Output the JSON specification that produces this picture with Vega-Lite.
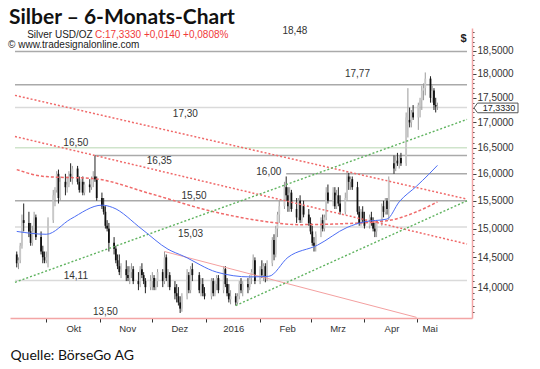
{
"$schema":"https://vega.github.io/schema/vega-lite/v6.json",
"width":462,"height":290,
"autosize":{"type":"none"},
"padding":{"left":10,"top":28,"right":68,"bottom":51},
"background":"white",
"config":{"view":{"stroke":null}},
"title":{"text":"Silber – 6-Monats-Chart","anchor":"start","frame":"group","font":"Lato","fontSize":21,"fontWeight":"bold","color":"#111","offset":0,"dx":-1,"dy":2},
"datasets":{
"levels":[
{"price":18.48,"date":"2015-09-13","end":"2016-05-30"},
{"price":17.77,"date":"2015-09-13","end":"2016-05-30"},
{"price":17.3,"date":"2015-09-13","end":"2016-05-30"},
{"price":16.5,"date":"2015-09-13","end":"2016-05-30"},
{"price":16.35,"date":"2015-10-29","end":"2016-05-30"},
{"price":16.0,"date":"2016-02-16","end":"2016-05-30"},
{"price":15.5,"date":"2015-09-13","end":"2016-05-30"},
{"price":15.03,"date":"2015-09-13","end":"2016-05-30"},
{"price":14.11,"date":"2015-09-13","end":"2016-05-30"}
],
"labels":[
{"label":"18,48","date":"2016-02-21","price":18.94},
{"label":"17,77","date":"2016-03-28","price":17.99},
{"label":"17,30","date":"2015-12-20","price":17.16},
{"label":"16,50","date":"2015-10-18","price":16.6},
{"label":"16,35","date":"2015-12-05","price":16.24},
{"label":"16,00","date":"2016-02-06","price":16.03},
{"label":"15,50","date":"2015-12-25","price":15.58},
{"label":"15,03","date":"2015-12-23","price":14.9},
{"label":"14,11","date":"2015-10-18","price":14.18},
{"label":"13,50","date":"2015-11-04","price":13.59}
],
"notes":[
{"label":"Silver USD/OZ","date":"2015-09-20","price":18.85},
{"label":"C:17,3330 +0,0140 +0,0808%","date":"2015-10-29","price":18.85},
{"label":"© www.tradesignalonline.com","date":"2015-09-09","price":18.63}
],
"lines":[
{"series":"ch1","date":"2015-09-13","price":17.55},{"series":"ch1","date":"2016-05-30","price":15.53},
{"series":"ch2","date":"2015-09-13","price":16.72},{"series":"ch2","date":"2016-05-30","price":14.73},
{"series":"tl","date":"2015-12-08","price":14.6},{"series":"tl","date":"2016-05-01","price":13.51},
{"series":"g1","date":"2015-09-13","price":14.08},{"series":"g1","date":"2016-05-30","price":17.06},
{"series":"g2","date":"2016-01-18","price":13.7},{"series":"g2","date":"2016-05-30","price":15.5},
{"series":"ma200","date":"2015-09-14","price":16.08},{"series":"ma200","date":"2015-09-30","price":15.95},{"series":"ma200","date":"2015-10-28","price":15.91},{"series":"ma200","date":"2015-12-01","price":15.62},{"series":"ma200","date":"2016-01-04","price":15.31},{"series":"ma200","date":"2016-02-01","price":15.14},{"series":"ma200","date":"2016-02-23","price":15.07},{"series":"ma200","date":"2016-03-22","price":15.09},{"series":"ma200","date":"2016-04-14","price":15.14},{"series":"ma200","date":"2016-05-01","price":15.3},{"series":"ma200","date":"2016-05-13","price":15.48},
{"series":"ma50","date":"2015-09-14","price":14.95},{"series":"ma50","date":"2015-10-01","price":14.9},{"series":"ma50","date":"2015-10-15","price":15.17},{"series":"ma50","date":"2015-11-02","price":15.42},{"series":"ma50","date":"2015-11-08","price":15.38},{"series":"ma50","date":"2015-11-25","price":14.99},{"series":"ma50","date":"2015-12-10","price":14.64},{"series":"ma50","date":"2015-12-19","price":14.52},{"series":"ma50","date":"2016-01-07","price":14.25},{"series":"ma50","date":"2016-01-26","price":14.17},{"series":"ma50","date":"2016-02-06","price":14.18},{"series":"ma50","date":"2016-02-17","price":14.5},{"series":"ma50","date":"2016-03-05","price":14.71},{"series":"ma50","date":"2016-03-22","price":15.02},{"series":"ma50","date":"2016-04-01","price":15.12},{"series":"ma50","date":"2016-04-14","price":15.17},{"series":"ma50","date":"2016-04-21","price":15.48},{"series":"ma50","date":"2016-05-01","price":15.77},{"series":"ma50","date":"2016-05-08","price":15.99},{"series":"ma50","date":"2016-05-13","price":16.16}
],
"bars":[
{"date":"2015-09-14","open":14.55,"high":14.6,"low":14.33,"close":14.4},
{"date":"2015-09-15","open":14.4,"high":14.5,"low":14.3,"close":14.45},
{"date":"2015-09-16","open":14.45,"high":14.75,"low":14.4,"close":14.7},
{"date":"2015-09-17","open":14.7,"high":15.25,"low":14.65,"close":15.15},
{"date":"2015-09-18","open":15.15,"high":15.45,"low":14.95,"close":15.1},
{"date":"2015-09-21","open":15.1,"high":15.3,"low":14.85,"close":14.95},
{"date":"2015-09-22","open":14.95,"high":15.1,"low":14.7,"close":14.75},
{"date":"2015-09-23","open":14.75,"high":15.05,"low":14.7,"close":14.95},
{"date":"2015-09-24","open":14.95,"high":15.3,"low":14.9,"close":15.2},
{"date":"2015-09-25","open":15.2,"high":15.25,"low":14.8,"close":14.85},
{"date":"2015-09-28","open":14.85,"high":14.95,"low":14.55,"close":14.6},
{"date":"2015-09-29","open":14.6,"high":14.7,"low":14.4,"close":14.5},
{"date":"2015-09-30","open":14.5,"high":14.6,"low":14.4,"close":14.45},
{"date":"2015-10-01","open":14.45,"high":14.6,"low":14.4,"close":14.5},
{"date":"2015-10-02","open":14.5,"high":15.2,"low":14.33,"close":15.15},
{"date":"2015-10-05","open":15.15,"high":15.7,"low":15.1,"close":15.6},
{"date":"2015-10-06","open":15.6,"high":15.75,"low":15.4,"close":15.7},
{"date":"2015-10-07","open":15.7,"high":16.05,"low":15.65,"close":16.0},
{"date":"2015-10-08","open":16.0,"high":16.08,"low":15.45,"close":15.55},
{"date":"2015-10-09","open":15.55,"high":15.95,"low":15.5,"close":15.85},
{"date":"2015-10-12","open":15.85,"high":16.0,"low":15.6,"close":15.75},
{"date":"2015-10-13","open":15.75,"high":15.95,"low":15.65,"close":15.8},
{"date":"2015-10-14","open":15.8,"high":16.05,"low":15.75,"close":16.0},
{"date":"2015-10-15","open":16.0,"high":16.2,"low":15.85,"close":15.95},
{"date":"2015-10-16","open":15.95,"high":16.15,"low":15.8,"close":16.1},
{"date":"2015-10-19","open":16.1,"high":16.15,"low":15.8,"close":15.85},
{"date":"2015-10-20","open":15.85,"high":15.95,"low":15.65,"close":15.7},
{"date":"2015-10-21","open":15.7,"high":15.9,"low":15.65,"close":15.85},
{"date":"2015-10-22","open":15.85,"high":15.95,"low":15.6,"close":15.65},
{"date":"2015-10-23","open":15.65,"high":15.85,"low":15.6,"close":15.8},
{"date":"2015-10-26","open":15.8,"high":15.9,"low":15.65,"close":15.75},
{"date":"2015-10-27","open":15.75,"high":15.95,"low":15.7,"close":15.9},
{"date":"2015-10-28","open":15.9,"high":16.05,"low":15.75,"close":15.95},
{"date":"2015-10-29","open":15.95,"high":16.35,"low":15.85,"close":15.9},
{"date":"2015-10-30","open":15.9,"high":15.95,"low":15.5,"close":15.55},
{"date":"2015-11-02","open":15.55,"high":15.65,"low":15.35,"close":15.4},
{"date":"2015-11-03","open":15.4,"high":15.55,"low":15.25,"close":15.3},
{"date":"2015-11-04","open":15.3,"high":15.4,"low":15.0,"close":15.05},
{"date":"2015-11-05","open":15.05,"high":15.15,"low":14.95,"close":15.0},
{"date":"2015-11-06","open":15.0,"high":15.1,"low":14.6,"close":14.75},
{"date":"2015-11-09","open":14.75,"high":14.85,"low":14.55,"close":14.65},
{"date":"2015-11-10","open":14.65,"high":14.7,"low":14.4,"close":14.45},
{"date":"2015-11-11","open":14.45,"high":14.55,"low":14.3,"close":14.35},
{"date":"2015-11-12","open":14.35,"high":14.55,"low":14.2,"close":14.25},
{"date":"2015-11-13","open":14.25,"high":14.4,"low":14.15,"close":14.3},
{"date":"2015-11-16","open":14.3,"high":14.45,"low":14.1,"close":14.2},
{"date":"2015-11-17","open":14.2,"high":14.35,"low":14.1,"close":14.15},
{"date":"2015-11-18","open":14.15,"high":14.35,"low":14.05,"close":14.25},
{"date":"2015-11-19","open":14.25,"high":14.4,"low":14.15,"close":14.3},
{"date":"2015-11-20","open":14.3,"high":14.35,"low":14.05,"close":14.1},
{"date":"2015-11-23","open":14.1,"high":14.25,"low":13.95,"close":14.05},
{"date":"2015-11-24","open":14.05,"high":14.35,"low":14.0,"close":14.3},
{"date":"2015-11-25","open":14.3,"high":14.4,"low":14.15,"close":14.2},
{"date":"2015-11-26","open":14.2,"high":14.25,"low":14.05,"close":14.1},
{"date":"2015-11-27","open":14.1,"high":14.15,"low":13.9,"close":14.0},
{"date":"2015-11-30","open":14.0,"high":14.2,"low":13.95,"close":14.1},
{"date":"2015-12-01","open":14.1,"high":14.25,"low":13.95,"close":14.15},
{"date":"2015-12-02","open":14.15,"high":14.2,"low":13.95,"close":14.0},
{"date":"2015-12-03","open":14.0,"high":14.15,"low":13.95,"close":14.1},
{"date":"2015-12-04","open":14.1,"high":14.3,"low":14.0,"close":14.25},
{"date":"2015-12-07","open":14.25,"high":14.3,"low":14.0,"close":14.1},
{"date":"2015-12-08","open":14.1,"high":14.6,"low":14.05,"close":14.5},
{"date":"2015-12-09","open":14.5,"high":14.55,"low":14.1,"close":14.15},
{"date":"2015-12-10","open":14.15,"high":14.3,"low":14.0,"close":14.2},
{"date":"2015-12-11","open":14.2,"high":14.25,"low":13.95,"close":14.0},
{"date":"2015-12-14","open":14.0,"high":14.1,"low":13.8,"close":13.9},
{"date":"2015-12-15","open":13.9,"high":14.05,"low":13.75,"close":13.85},
{"date":"2015-12-16","open":13.85,"high":14.0,"low":13.7,"close":13.75},
{"date":"2015-12-17","open":13.75,"high":13.85,"low":13.58,"close":13.65},
{"date":"2015-12-18","open":13.65,"high":13.9,"low":13.6,"close":13.85},
{"date":"2015-12-21","open":13.85,"high":14.3,"low":13.8,"close":14.2},
{"date":"2015-12-22","open":14.2,"high":14.25,"low":13.9,"close":13.95},
{"date":"2015-12-23","open":13.95,"high":14.35,"low":13.9,"close":14.3},
{"date":"2015-12-24","open":14.3,"high":14.4,"low":14.1,"close":14.2},
{"date":"2015-12-28","open":14.2,"high":14.25,"low":13.9,"close":13.95},
{"date":"2015-12-29","open":13.95,"high":14.15,"low":13.85,"close":14.05},
{"date":"2015-12-30","open":14.05,"high":14.15,"low":13.85,"close":13.9},
{"date":"2015-12-31","open":13.9,"high":14.0,"low":13.8,"close":13.85},
{"date":"2016-01-04","open":13.85,"high":14.15,"low":13.8,"close":14.1},
{"date":"2016-01-05","open":14.1,"high":14.15,"low":13.85,"close":13.9},
{"date":"2016-01-06","open":13.9,"high":14.1,"low":13.85,"close":14.05},
{"date":"2016-01-07","open":14.05,"high":14.2,"low":13.95,"close":14.15},
{"date":"2016-01-08","open":14.15,"high":14.2,"low":13.9,"close":13.95},
{"date":"2016-01-11","open":13.95,"high":14.35,"low":13.9,"close":14.3},
{"date":"2016-01-12","open":14.3,"high":14.35,"low":14.0,"close":14.05},
{"date":"2016-01-13","open":14.05,"high":14.15,"low":13.85,"close":13.9},
{"date":"2016-01-14","open":13.9,"high":14.05,"low":13.75,"close":13.8},
{"date":"2016-01-15","open":13.8,"high":13.95,"low":13.72,"close":13.85},
{"date":"2016-01-18","open":13.85,"high":13.9,"low":13.7,"close":13.75},
{"date":"2016-01-19","open":13.75,"high":13.9,"low":13.72,"close":13.85},
{"date":"2016-01-20","open":13.85,"high":14.1,"low":13.8,"close":14.05},
{"date":"2016-01-21","open":14.05,"high":14.15,"low":13.9,"close":13.95},
{"date":"2016-01-22","open":13.95,"high":14.1,"low":13.85,"close":14.05},
{"date":"2016-01-25","open":14.05,"high":14.15,"low":13.9,"close":14.0},
{"date":"2016-01-26","open":14.0,"high":14.2,"low":13.95,"close":14.15},
{"date":"2016-01-27","open":14.15,"high":14.3,"low":14.05,"close":14.25},
{"date":"2016-01-28","open":14.25,"high":14.55,"low":14.2,"close":14.45},
{"date":"2016-01-29","open":14.45,"high":14.5,"low":14.05,"close":14.1},
{"date":"2016-02-01","open":14.1,"high":14.35,"low":14.05,"close":14.3},
{"date":"2016-02-02","open":14.3,"high":14.45,"low":14.15,"close":14.2},
{"date":"2016-02-03","open":14.2,"high":14.4,"low":14.1,"close":14.35},
{"date":"2016-02-04","open":14.35,"high":14.4,"low":14.08,"close":14.15},
{"date":"2016-02-05","open":14.15,"high":14.45,"low":14.1,"close":14.4},
{"date":"2016-02-08","open":14.4,"high":14.85,"low":14.35,"close":14.8},
{"date":"2016-02-09","open":14.8,"high":14.9,"low":14.45,"close":14.55},
{"date":"2016-02-10","open":14.55,"high":15.05,"low":14.5,"close":15.0},
{"date":"2016-02-11","open":15.0,"high":15.3,"low":14.85,"close":15.25},
{"date":"2016-02-12","open":15.25,"high":15.5,"low":15.1,"close":15.4},
{"date":"2016-02-15","open":15.4,"high":15.85,"low":15.35,"close":15.75},
{"date":"2016-02-16","open":15.75,"high":15.95,"low":15.5,"close":15.6},
{"date":"2016-02-17","open":15.6,"high":15.75,"low":15.3,"close":15.4},
{"date":"2016-02-18","open":15.4,"high":15.75,"low":15.3,"close":15.65},
{"date":"2016-02-19","open":15.65,"high":15.7,"low":15.3,"close":15.35},
{"date":"2016-02-22","open":15.35,"high":15.55,"low":15.1,"close":15.2},
{"date":"2016-02-23","open":15.2,"high":15.55,"low":15.15,"close":15.5},
{"date":"2016-02-24","open":15.5,"high":15.6,"low":15.1,"close":15.15},
{"date":"2016-02-25","open":15.15,"high":15.45,"low":15.1,"close":15.4},
{"date":"2016-02-26","open":15.4,"high":15.5,"low":15.2,"close":15.25},
{"date":"2016-02-29","open":15.25,"high":15.35,"low":15.05,"close":15.1},
{"date":"2016-03-01","open":15.1,"high":15.2,"low":14.9,"close":14.95},
{"date":"2016-03-02","open":14.95,"high":15.05,"low":14.7,"close":14.75},
{"date":"2016-03-03","open":14.75,"high":14.85,"low":14.6,"close":14.7},
{"date":"2016-03-04","open":14.7,"high":14.95,"low":14.6,"close":14.9},
{"date":"2016-03-07","open":14.9,"high":15.2,"low":14.85,"close":15.15},
{"date":"2016-03-08","open":15.15,"high":15.25,"low":14.95,"close":15.0},
{"date":"2016-03-09","open":15.0,"high":15.25,"low":14.95,"close":15.2},
{"date":"2016-03-10","open":15.2,"high":15.75,"low":15.15,"close":15.65},
{"date":"2016-03-11","open":15.65,"high":15.8,"low":15.45,"close":15.5},
{"date":"2016-03-14","open":15.5,"high":15.75,"low":15.4,"close":15.65},
{"date":"2016-03-15","open":15.65,"high":15.75,"low":15.35,"close":15.4},
{"date":"2016-03-16","open":15.4,"high":15.7,"low":15.35,"close":15.6},
{"date":"2016-03-17","open":15.6,"high":15.75,"low":15.4,"close":15.45},
{"date":"2016-03-18","open":15.45,"high":15.6,"low":15.25,"close":15.3},
{"date":"2016-03-21","open":15.3,"high":15.65,"low":15.25,"close":15.55},
{"date":"2016-03-22","open":15.55,"high":16.05,"low":15.5,"close":15.95},
{"date":"2016-03-23","open":15.95,"high":16.02,"low":15.7,"close":15.85},
{"date":"2016-03-24","open":15.85,"high":15.95,"low":15.7,"close":15.9},
{"date":"2016-03-25","open":15.9,"high":15.95,"low":15.7,"close":15.75},
{"date":"2016-03-28","open":15.75,"high":15.85,"low":15.25,"close":15.3},
{"date":"2016-03-29","open":15.3,"high":15.4,"low":15.05,"close":15.1},
{"date":"2016-03-30","open":15.1,"high":15.35,"low":15.05,"close":15.3},
{"date":"2016-03-31","open":15.3,"high":15.4,"low":15.1,"close":15.15},
{"date":"2016-04-01","open":15.15,"high":15.3,"low":15.0,"close":15.05},
{"date":"2016-04-04","open":15.05,"high":15.25,"low":15.0,"close":15.2},
{"date":"2016-04-05","open":15.2,"high":15.3,"low":15.05,"close":15.1},
{"date":"2016-04-06","open":15.1,"high":15.2,"low":14.95,"close":15.0},
{"date":"2016-04-07","open":15.0,"high":15.1,"low":14.85,"close":14.95},
{"date":"2016-04-08","open":14.95,"high":15.15,"low":14.85,"close":15.1},
{"date":"2016-04-11","open":15.1,"high":15.45,"low":15.05,"close":15.4},
{"date":"2016-04-12","open":15.4,"high":15.5,"low":15.2,"close":15.3},
{"date":"2016-04-13","open":15.3,"high":15.55,"low":15.25,"close":15.5},
{"date":"2016-04-14","open":15.5,"high":15.55,"low":15.25,"close":15.35},
{"date":"2016-04-15","open":15.35,"high":15.95,"low":15.15,"close":15.9},
{"date":"2016-04-18","open":16.2,"high":16.35,"low":16.0,"close":16.1},
{"date":"2016-04-19","open":16.1,"high":16.35,"low":16.05,"close":16.25},
{"date":"2016-04-20","open":16.25,"high":16.4,"low":16.15,"close":16.2},
{"date":"2016-04-21","open":16.2,"high":16.35,"low":16.1,"close":16.3},
{"date":"2016-04-22","open":16.3,"high":16.4,"low":16.15,"close":16.2},
{"date":"2016-04-25","open":16.2,"high":17.2,"low":16.15,"close":17.1},
{"date":"2016-04-26","open":16.95,"high":17.7,"low":16.7,"close":17.05},
{"date":"2016-04-27","open":17.05,"high":17.3,"low":16.9,"close":17.0},
{"date":"2016-04-28","open":17.0,"high":17.25,"low":16.9,"close":17.2},
{"date":"2016-04-29","open":17.2,"high":17.35,"low":17.05,"close":17.1},
{"date":"2016-05-02","open":17.1,"high":17.4,"low":16.85,"close":17.35},
{"date":"2016-05-03","open":17.35,"high":17.5,"low":17.1,"close":17.45},
{"date":"2016-05-04","open":17.45,"high":17.75,"low":17.25,"close":17.65},
{"date":"2016-05-05","open":17.65,"high":17.8,"low":17.45,"close":17.7},
{"date":"2016-05-06","open":17.7,"high":18.03,"low":17.55,"close":17.9},
{"date":"2016-05-09","open":17.9,"high":17.95,"low":17.4,"close":17.5},
{"date":"2016-05-10","open":17.5,"high":17.75,"low":17.4,"close":17.65},
{"date":"2016-05-11","open":17.65,"high":17.7,"low":17.25,"close":17.35},
{"date":"2016-05-12","open":17.35,"high":17.5,"low":17.2,"close":17.32},
{"date":"2016-05-13","open":17.32,"high":17.4,"low":17.25,"close":17.333}
],
"last":[{"label":"17,3330","price":17.333}]
},
"encoding":{
"x":{"field":"date","type":"temporal","title":"Quelle: BörseGo AG",
 "scale":{"type":"utc","domain":[{"utc":true,"year":2015,"month":9,"date":13},{"utc":true,"year":2016,"month":5,"date":30}]},
 "axis":{"values":[{"utc":true,"year":2015,"month":10,"date":1},{"utc":true,"year":2015,"month":11,"date":1},{"utc":true,"year":2015,"month":12,"date":1},{"utc":true,"year":2016,"month":1,"date":1},{"utc":true,"year":2016,"month":2,"date":1},{"utc":true,"year":2016,"month":3,"date":1},{"utc":true,"year":2016,"month":4,"date":1},{"utc":true,"year":2016,"month":5,"date":1}],
  "labelExpr":"utcmonth(datum.value)==0 ? '' + utcyear(datum.value) : ['Jan','Feb','Mrz','Apr','Mai','Jun','Jul','Aug','Sep','Okt','Nov','Dez'][utcmonth(datum.value)]",
  "labelOffset":{"condition":{"test":"utcmonth(datum.value)==4","value":13},"value":27},
  "grid":false,"domainColor":"#f3a5a5","domainWidth":1.5,"tickColor":"#333","tickSize":4,
  "labelFont":"Liberation Sans","labelFontSize":9.5,"labelColor":"#333","labelPadding":1,"labelFlush":false,"labelOverlap":false,
  "titleFont":"Lato","titleFontSize":14,"titleFontWeight":"normal","titleColor":"#111","titleAnchor":"start","titleAlign":"left","titleBaseline":"alphabetic","titleX":0,"titleY":41}},
"y":{"field":"price","type":"quantitative","title":"$",
 "scale":{"type":"log","domain":[13.5,19],"nice":false,"zero":false},
 "axis":{"orient":"right","values":[13.6,13.7,13.8,13.9,14,14.1,14.2,14.3,14.4,14.5,14.6,14.7,14.8,14.9,15,15.1,15.2,15.3,15.4,15.5,15.6,15.7,15.8,15.9,16,16.1,16.2,16.3,16.4,16.5,16.6,16.7,16.8,16.9,17,17.1,17.2,17.3,17.4,17.5,17.6,17.7,17.8,17.9,18,18.1,18.2,18.3,18.4,18.5,18.6,18.7,18.8,18.9],
  "labelExpr":"abs(datum.value*2-round(datum.value*2))<0.01 ? replace(format(datum.value,'.4f'),'.',',') : ''",
  "tickSize":{"condition":{"test":"abs(datum.value*2-round(datum.value*2))<0.01","value":4},"value":2},
  "grid":false,"domainColor":"#f3a5a5","domainWidth":1.5,"tickColor":"#444",
  "labelFont":"Liberation Sans","labelFontSize":10,"labelColor":"#333","labelPadding":1,"labelOverlap":false,"labelFlush":false,
  "titleAngle":0,"titleAlign":"center","titleX":-9,"titleY":13,"titleFont":"Liberation Sans","titleFontSize":11,"titleFontWeight":"bold","titleColor":"#222","titleBaseline":"alphabetic"}}
},
"layer":[
{"data":{"name":"levels"},"mark":{"type":"rule","strokeWidth":1.5},
 "encoding":{"x2":{"field":"end"},
  "color":{"condition":[{"test":"datum.price==16.5","value":"#cfe4cb"},{"test":"datum.price==17.3 || datum.price==15.03 || datum.price==14.11","value":"#dadada"}],"value":"#aaaaaa"}}},
{"data":{"name":"bars"},"mark":{"type":"rule","strokeWidth":1},
 "encoding":{"y":{"field":"low","type":"quantitative","title":"$"},"y2":{"field":"high"},
  "color":{"condition":{"test":"datum.close<datum.open","value":"#222"},"value":"#9a9a9a"}}},
{"data":{"name":"bars"},"mark":{"type":"bar","width":1.8},
 "encoding":{"y":{"field":"open","type":"quantitative","title":"$"},"y2":{"field":"close"},
  "color":{"condition":{"test":"datum.close<datum.open","value":"#111"},"value":"#c8c8c8"}}},
{"data":{"name":"lines"},"transform":[{"filter":"datum.series=='ch1' || datum.series=='ch2'"}],
 "mark":{"type":"line","color":"#f06a6a","strokeDash":[2,2],"strokeWidth":1.5},"encoding":{"detail":{"field":"series"}}},
{"data":{"name":"lines"},"transform":[{"filter":"datum.series=='ma200'"}],
 "mark":{"type":"line","color":"#f06a6a","strokeDash":[3,2],"strokeWidth":1.5,"interpolate":"monotone"},"encoding":{}},
{"data":{"name":"lines"},"transform":[{"filter":"datum.series=='tl'"}],
 "mark":{"type":"line","color":"#f4a0a0","strokeWidth":1},"encoding":{}},
{"data":{"name":"lines"},"transform":[{"filter":"datum.series=='g1' || datum.series=='g2'"}],
 "mark":{"type":"line","color":"#5fb35f","strokeDash":[2,2],"strokeWidth":1.4},"encoding":{"detail":{"field":"series"}}},
{"data":{"name":"lines"},"transform":[{"filter":"datum.series=='ma50'"}],
 "mark":{"type":"line","color":"#4d6ef5","strokeWidth":1,"interpolate":"monotone"},"encoding":{}},
{"data":{"name":"labels"},"mark":{"type":"text","font":"Liberation Sans","fontSize":10,"color":"#333","align":"center","baseline":"middle"},
 "encoding":{"text":{"field":"label"}}},
{"data":{"name":"notes"},"transform":[{"filter":"indexof(datum.label,'C:')!=0"}],
 "mark":{"type":"text","font":"Liberation Sans","fontSize":10,"color":"#222","align":"left","baseline":"middle"},
 "encoding":{"text":{"field":"label"}}},
{"data":{"name":"notes"},"transform":[{"filter":"indexof(datum.label,'C:')==0"}],
 "mark":{"type":"text","font":"Liberation Sans","fontSize":10,"color":"#f03a3a","align":"left","baseline":"middle"},
 "encoding":{"text":{"field":"label"}}},
{"data":{"name":"last"},"mark":{"type":"point","shape":"M-1,0L-0.84,-0.22L1,-0.22L1,0.22L-0.84,0.22Z","size":1936,"fill":"white","stroke":"#555","strokeWidth":1,"opacity":1,"xOffset":24,"yOffset":2},
 "encoding":{"x":{"value":"width"}}},
{"data":{"name":"last"},"mark":{"type":"text","font":"Liberation Sans","fontSize":9,"color":"#222","align":"center","baseline":"middle","dx":27,"dy":2},
 "encoding":{"x":{"value":"width"},"text":{"field":"label"}}}
]
}
